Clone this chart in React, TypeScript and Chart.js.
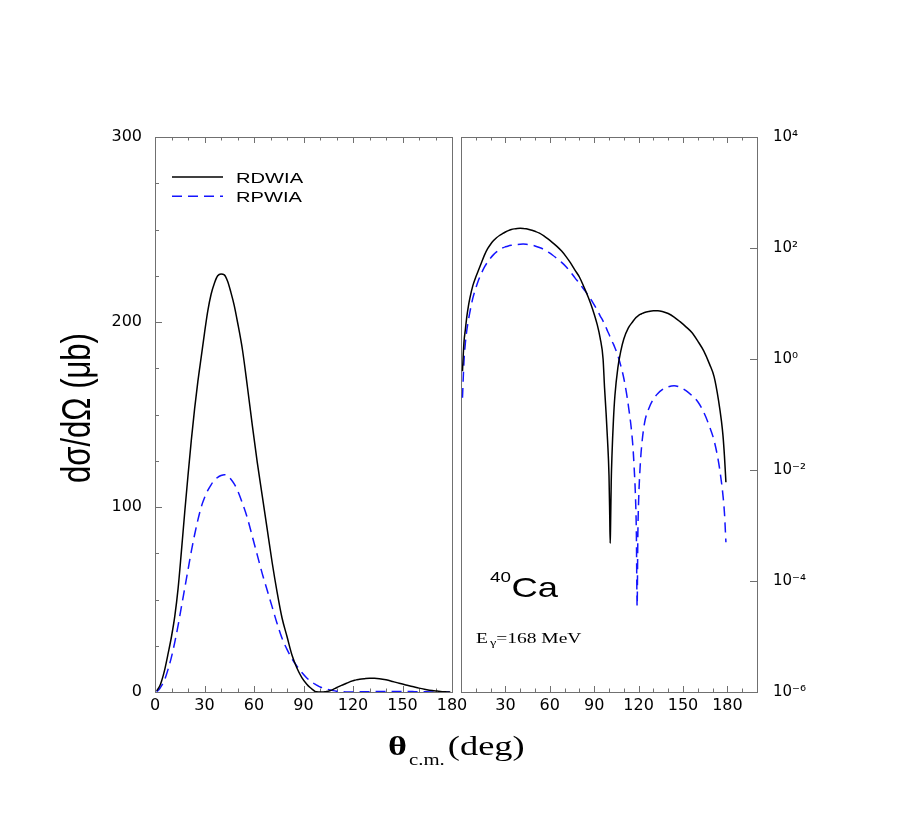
import React, { useEffect, useRef } from "react";
import { Chart, registerables } from "chart.js";

Chart.register(...registerables);

// ---------- data (theta in degrees, cross sections in microbarn) ----------
const THETA = [
  1, 2, 3, 4, 5, 6, 8, 10, 12, 14, 16, 18, 20, 22, 24, 26, 28, 30, 32, 34, 36, 38, 40,
  42, 44, 46, 48, 50, 53, 56, 59, 62, 65, 68, 71, 74, 77, 80, 83, 86, 89, 92, 94, 96,
  97, 98, 99, 100, 100.5, 100.8, 101, 101.5, 102, 103, 104, 106, 108, 110, 113, 116,
  117, 118, 118.5, 119, 119.5, 120, 121, 122, 124, 127, 130, 133, 136, 140, 144, 148,
  152, 156, 160, 164, 168, 171, 174, 176, 177, 178, 179,
];

const RDWIA = [
  0.6, 2, 3.5, 6, 9, 12.5, 21, 30, 41, 56, 76, 97, 117, 136, 153, 168, 181, 194, 206, 215, 221, 225, 226,
  225.5, 222, 216, 209, 200, 185, 165, 144, 124, 106, 88, 70, 54, 40, 30, 20, 13, 7.8, 4.2, 2.4, 1.0,
  0.3, 0.11, 0.035, 0.008, 0.0015, 0.00048, 0.0008, 0.006, 0.018, 0.08, 0.22, 0.7, 1.4, 2.3, 3.6, 4.7,
  5.1, 5.5, 5.65, 5.8, 5.95, 6.1, 6.35, 6.55, 6.9, 7.2, 7.4, 7.4, 7.2, 6.6, 5.7, 4.7,
  3.8, 3.0, 2.1, 1.4, 0.8, 0.48, 0.18, 0.075, 0.042, 0.018, 0.006,
];

const RPWIA = [
  0.2, 0.9, 2.0, 3.4, 5, 7, 12.5, 19, 27, 36, 46, 56, 66, 76, 85, 93, 100, 105, 109, 112, 114.5, 116, 117,
  117.5, 117, 115, 112.5, 109, 102, 94, 84, 74, 64, 55, 46, 37, 29, 23, 18, 14, 10.5, 7.6, 6.0, 4.8,
  4.2, 3.7, 3.2, 2.8, 2.6, 2.5, 2.4, 2.25, 2.1, 1.85, 1.6, 1.15, 0.75, 0.45, 0.15, 0.03,
  0.011, 0.0027, 0.0007, 0.000035, 0.0007, 0.0027, 0.011, 0.026, 0.07, 0.13, 0.19, 0.24, 0.28, 0.315, 0.33, 0.31,
  0.27, 0.22, 0.17, 0.11, 0.06, 0.034, 0.014, 0.006, 0.0035, 0.0017, 0.0005,
];

const SERIES_NAMES = ["RDWIA", "RPWIA"];
const SERIES_COLORS = ["#000000", "#1414ff"];

// ---------- axis ticks ----------
const LEFT_X_LABELS = [0, 30, 60, 90, 120, 150, 180];
const LEFT_X_MARKS = [0, 10, 20, 30, 40, 50, 60, 70, 80, 90, 100, 110, 120, 130, 140, 150, 160, 170, 180];
const RIGHT_X_LABELS = [30, 60, 90, 120, 150, 180];
const RIGHT_X_MARKS = [0, 10, 20, 30, 40, 50, 60, 70, 80, 90, 100, 110, 120, 130, 140, 150, 160, 170, 180, 190, 200];
const LEFT_Y_LABELS = [0, 100, 200, 300];
const LEFT_Y_MARKS = [0, 25, 50, 75, 100, 125, 150, 175, 200, 225, 250, 275, 300];
const LOG_Y_VALUES = [1e-6, 1e-4, 1e-2, 1, 1e2, 1e4];
const LOG_Y_LABELS = ["10⁻⁶", "10⁻⁴", "10⁻²", "10⁰", "10²", "10⁴"];

const W = 897;
const H = 814;

function makeDatasets() {
  return [RDWIA, RPWIA].map((vals, i) => ({
    label: SERIES_NAMES[i],
    data: THETA.map((t, j) => ({ x: t, y: vals[j] })),
    borderColor: SERIES_COLORS[i],
    backgroundColor: SERIES_COLORS[i],
    borderWidth: 1.5,
    borderDash: i === 1 ? [10, 6] : [],
    pointRadius: 0,
    cubicInterpolationMode: "monotone",
    fill: false,
  }));
}

function stretchText(ctx: any, text: string, x: number, y: number, font: string, sx: number, align: string = "left") {
  ctx.save();
  ctx.font = font;
  ctx.fillStyle = "#000";
  ctx.textAlign = align;
  ctx.textBaseline = "alphabetic";
  ctx.translate(x, y);
  ctx.scale(sx, 1);
  ctx.fillText(text, 0, 0);
  const w = ctx.measureText(text).width * sx;
  ctx.restore();
  return w;
}

const frameTicks = {
  id: "frameTicks",
  beforeDatasetsDraw(chart: any, _args: any, opts: any) {
    const { ctx, chartArea: a, scales } = chart;
    ctx.save();
    ctx.strokeStyle = "#707070";
    ctx.lineWidth = 1;
    ctx.strokeRect(a.left + 0.5, a.top + 0.5, a.right - a.left, a.bottom - a.top);
    ctx.beginPath();
    for (const v of opts.xMarks) {
      const px = Math.round(scales.x.getPixelForValue(v)) + 0.5;
      const len = opts.xMajor.includes(v) ? 6 : 3.5;
      ctx.moveTo(px, a.bottom);
      ctx.lineTo(px, a.bottom - len);
      ctx.moveTo(px, a.top);
      ctx.lineTo(px, a.top + len);
    }
    for (const v of opts.yMarks) {
      const py = Math.round(scales.y.getPixelForValue(v)) + 0.5;
      const len = opts.yMajor.includes(v) ? 7 : 4;
      if (opts.ySide === "left") {
        ctx.moveTo(a.left, py);
        ctx.lineTo(a.left + len, py);
      } else {
        ctx.moveTo(a.right, py);
        ctx.lineTo(a.right - len, py);
      }
    }
    ctx.stroke();
    ctx.restore();
  },
};

const leftTexts = {
  id: "leftTexts",
  afterDraw(chart: any) {
    const { ctx, chartArea: a } = chart;
    // legend
    chart.data.datasets.forEach((ds: any, i: number) => {
      const ly = a.top + 40 + i * 19.3;
      ctx.save();
      ctx.strokeStyle = ds.borderColor;
      ctx.lineWidth = 1.5;
      ctx.setLineDash(ds.borderDash || []);
      ctx.beginPath();
      ctx.moveTo(a.left + 17, ly);
      ctx.lineTo(a.left + 68, ly);
      ctx.stroke();
      ctx.restore();
      stretchText(ctx, ds.label, a.left + 81, a.top + 45.5 + i * 19, '15.5px "Liberation Sans"', 1.3);
    });
    // x axis title
    const x0 = 380;
    const base = 747;
    const wt = stretchText(ctx, "θ", x0, base, 'bold 28px "Liberation Serif"', 1.3);
    const subX = x0 + wt + 2;
    const ws = stretchText(ctx, "c.m.", subX, base + 10, '16px "Liberation Serif"', 1.3);
    stretchText(ctx, "(deg)", subX + ws + 3, base, '28px "Liberation Serif"', 1.3);
    // y axis title (rotated)
    ctx.save();
    ctx.translate(82, 400);
    ctx.rotate(-Math.PI / 2);
    ctx.scale(1, 1.3);
    ctx.font = '31px "Liberation Sans"';
    ctx.fillStyle = "#000";
    ctx.textAlign = "center";
    ctx.textBaseline = "alphabetic";
    ctx.fillText("dσ/dΩ (μb)", 0, 0);
    ctx.restore();
  },
};

const rightTexts = {
  id: "rightTexts",
  afterDraw(chart: any) {
    const { ctx } = chart;
    stretchText(ctx, "40", 482, 574, '14.5px "Liberation Sans"', 1.3);
    stretchText(ctx, "Ca", 503.5, 589, '28px "Liberation Sans"', 1.3);
    const we = stretchText(ctx, "E", 468, 635, '15px "Liberation Serif"', 1.3);
    const wg = stretchText(ctx, "γ", 468 + we + 2, 638, '11px "Liberation Serif"', 1.3);
    stretchText(ctx, "=168 MeV", 468 + we + 2 + wg, 635, '15px "Liberation Serif"', 1.3);
  },
};

const tickFont = { family: "DejaVu Sans", size: 16 };

export default function App() {
  const leftRef = useRef<HTMLCanvasElement | null>(null);
  const rightRef = useRef<HTMLCanvasElement | null>(null);

  useEffect(() => {
    const left = new Chart(leftRef.current as HTMLCanvasElement, {
      type: "line",
      data: { datasets: makeDatasets() as any },
      plugins: [frameTicks, leftTexts],
      options: {
        animation: false,
        responsive: false,
        events: [],
        layout: { padding: { left: 87, right: 453, top: 129, bottom: 100 } },
        plugins: {
          legend: { display: false },
          tooltip: { enabled: false },
          frameTicks: {
            xMarks: LEFT_X_MARKS,
            xMajor: LEFT_X_LABELS,
            yMarks: LEFT_Y_MARKS,
            yMajor: LEFT_Y_LABELS,
            ySide: "left",
          },
        } as any,
        scales: {
          x: {
            type: "linear",
            min: 0,
            max: 180,
            grid: { display: false, drawTicks: false },
            border: { display: false },
            afterBuildTicks: (s: any) => {
              s.ticks = LEFT_X_LABELS.map((v) => ({ value: v }));
            },
            afterFit: (s: any) => {
              s.height = 30;
            },
            ticks: {
              font: tickFont,
              color: "#000",
              padding: 4,
              maxRotation: 0,
              autoSkip: false,
              callback: (v: any) => String(v),
            },
          },
          y: {
            type: "linear",
            min: 0,
            max: 300,
            grid: { display: false, drawTicks: false },
            border: { display: false },
            afterBuildTicks: (s: any) => {
              s.ticks = LEFT_Y_LABELS.map((v) => ({ value: v }));
            },
            afterFit: (s: any) => {
              s.width = 60;
            },
            ticks: {
              font: tickFont,
              color: "#000",
              padding: 13,
              autoSkip: false,
              callback: (v: any) => String(v),
            },
          },
        },
      } as any,
    });

    const right = new Chart(rightRef.current as HTMLCanvasElement, {
      type: "line",
      data: { datasets: makeDatasets() as any },
      plugins: [frameTicks, rightTexts],
      options: {
        animation: false,
        responsive: false,
        events: [],
        layout: { padding: { left: 453, right: 88, top: 129, bottom: 100 } },
        plugins: {
          legend: { display: false },
          tooltip: { enabled: false },
          frameTicks: {
            xMarks: RIGHT_X_MARKS,
            xMajor: RIGHT_X_LABELS,
            yMarks: LOG_Y_VALUES,
            yMajor: LOG_Y_VALUES,
            ySide: "right",
          },
        } as any,
        scales: {
          x: {
            type: "linear",
            min: 0,
            max: 200,
            grid: { display: false, drawTicks: false },
            border: { display: false },
            afterBuildTicks: (s: any) => {
              s.ticks = RIGHT_X_LABELS.map((v) => ({ value: v }));
            },
            afterFit: (s: any) => {
              s.height = 30;
            },
            ticks: {
              font: tickFont,
              color: "#000",
              padding: 4,
              maxRotation: 0,
              autoSkip: false,
              callback: (v: any) => String(v),
            },
          },
          y: {
            type: "logarithmic",
            position: "right",
            min: 1e-6,
            max: 1e4,
            grid: { display: false, drawTicks: false },
            border: { display: false },
            afterBuildTicks: (s: any) => {
              s.ticks = LOG_Y_VALUES.map((v) => ({ value: v }));
            },
            afterFit: (s: any) => {
              s.width = 60;
            },
            ticks: {
              font: { family: "DejaVu Sans", size: 15 },
              color: "#000",
              padding: 16,
              autoSkip: false,
              callback: (v: any) => {
                const k = LOG_Y_VALUES.indexOf(Number(v));
                return k >= 0 ? LOG_Y_LABELS[k] : "";
              },
            },
          },
        },
      } as any,
    });

    return () => {
      left.destroy();
      right.destroy();
    };
  }, []);

  return (
    <div style={{ position: "relative", width: W, height: H }}>
      <canvas ref={leftRef} width={W} height={H} style={{ position: "absolute", left: 0, top: 0, width: W, height: H }} />
      <canvas ref={rightRef} width={W} height={H} style={{ position: "absolute", left: 0, top: 0, width: W, height: H }} />
    </div>
  );
}
